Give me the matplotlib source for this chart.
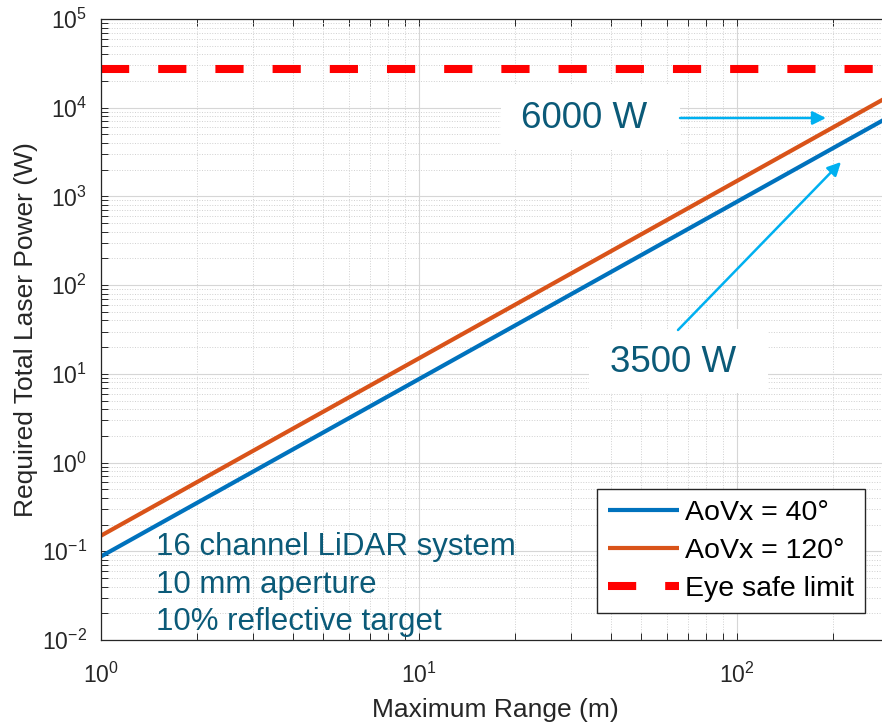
import numpy as np
import matplotlib
matplotlib.use('Agg')
import matplotlib.pyplot as plt
from matplotlib.patches import Rectangle, FancyArrowPatch

# values
range_m = [1, 10, 100, 300]
power_40 = [0.0875, 8.75, 875, 7875]
power_120 = [0.15, 15, 1500, 13500]
eye_safe_range = [1, 300]
eye_safe_power = [27000, 27000]

labels = ['AoVx = 40°', 'AoVx = 120°', 'Eye safe limit']
notes = ['16 channel LiDAR system', '10 mm aperture', '10% reflective target']

W, H = 882, 722
def fx(px):
    return px / W
def fy(py):
    return 1 - py / H

plt.rcParams['font.family'] = ['Liberation Sans', 'DejaVu Sans']
plt.rcParams['axes.unicode_minus'] = False

fig = plt.figure(figsize=(W / 100, H / 100), dpi=100)
# right spine sits just past the picture edge, as in the reference
ax = fig.add_axes([fx(101), fy(640), fx(889) - fx(101), fy(19) - fy(640)])

ax.plot(range_m, power_40, color='#0072BD', lw=3, solid_capstyle='butt', label=labels[0])
ax.plot(range_m, power_120, color='#D95319', lw=3, solid_capstyle='butt', label=labels[1])
ax.plot(eye_safe_range, eye_safe_power, color='#FF0000', lw=5.8,
        linestyle=(0, (3.5, 3.6)), dash_capstyle='butt', label=labels[2])

ax.set_xscale('log')
ax.set_yscale('log')
ax.set_xlim(1, 300)
ax.set_ylim(1e-2, 1e5)
ax.set_yticks([10.0**k for k in range(-2, 6)])
ax.set_xticks([1, 10, 100])

ax.grid(True, which='major', color='#d6d6d6', lw=0.8, ls='-')
ax.grid(True, which='minor', color='#d0d0d0', lw=0.7, ls=':')
ax.set_axisbelow(True)

dark = '#262626'
for s in ax.spines.values():
    s.set_color(dark)
    s.set_linewidth(0.9)
ax.tick_params(which='both', direction='in', top=True, right=True, colors=dark,
               labelsize=16.5, length=5, width=0.7)
ax.tick_params(axis='x', which='major', pad=16)
ax.tick_params(axis='y', which='major', pad=10)

fig.text(fx(495), fy(710), 'Maximum Range (m)', ha='center', va='center',
         fontsize=19, color=dark)
fig.text(fx(26), fy(330), 'Required Total Laser Power (W)', ha='center', va='center',
         rotation=90, fontsize=19, color=dark)

leg = ax.legend(loc='upper right', bbox_to_anchor=(fx(865), fy(489)),
                bbox_transform=fig.transFigure, borderaxespad=0, fontsize=20.5,
                handlelength=2.5, handletextpad=0.2, labelspacing=0.42,
                borderpad=0.38, fancybox=False, framealpha=1, edgecolor=dark)
leg.get_frame().set_linewidth(1.0)
for t in leg.get_texts():
    t.set_color('black')

teal = '#0b5a78'
for note, base in zip(notes, [555, 593, 630]):
    fig.text(fx(156), fy(base), note, ha='left', va='baseline', fontsize=22.5, color=teal)

# value call-outs with white boxes
fig.patches.append(Rectangle((fx(501), fy(150)), fx(680) - fx(501), fy(85) - fy(150),
                             transform=fig.transFigure, fc='white', ec='none', zorder=5))
fig.patches.append(Rectangle((fx(589), fy(393)), fx(768) - fx(589), fy(329) - fy(393),
                             transform=fig.transFigure, fc='white', ec='none', zorder=5))
fig.text(fx(584), fy(118), '6000 W', ha='center', va='center', fontsize=26.5, color=teal, zorder=6)
fig.text(fx(673), fy(362), '3500 W', ha='center', va='center', fontsize=26.5, color=teal, zorder=6)

arrow_color = '#00B0F0'
for (x0, y0), (x1, y1) in [((680, 118), (826, 118)), ((678, 330), (841, 162))]:
    fig.patches.append(FancyArrowPatch((fx(x0), fy(y0)), (fx(x1), fy(y1)),
                                       transform=fig.transFigure, arrowstyle='-|>',
                                       mutation_scale=20, lw=1.8, color=arrow_color,
                                       shrinkA=0, shrinkB=0, zorder=7))

fig.savefig('out.png', dpi=100)
